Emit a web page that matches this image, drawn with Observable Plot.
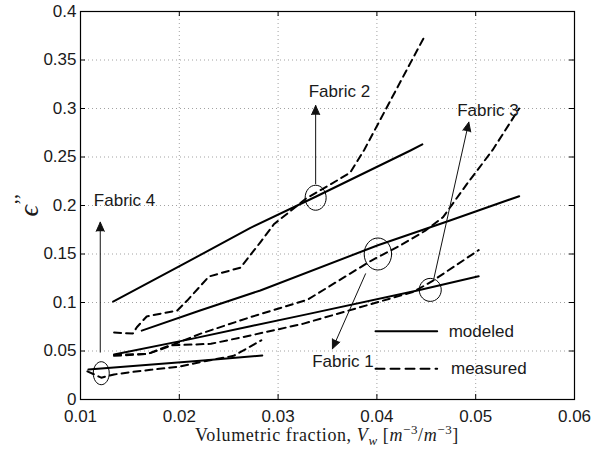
<!DOCTYPE html>
<html>
<head>
<meta charset="utf-8">
<script src="https://cdn.jsdelivr.net/npm/d3@7"></script>
<script src="https://cdn.jsdelivr.net/npm/@observablehq/plot@0.6"></script>
<style>
  body { margin: 0; background: #fff; }
  #chart svg { display: block; }
</style>
</head>
<body>
<div id="chart"></div>
<script>
// Axis ticks
const xTicks = [0.01, 0.02, 0.03, 0.04, 0.05, 0.06];
const xTickLabels = ["0.01", "0.02", "0.03", "0.04", "0.05", "0.06"];
const yTicks = [0, 0.05, 0.1, 0.15, 0.2, 0.25, 0.3, 0.35, 0.4];
const yTickLabels = ["0", "0.05", "0.1", "0.15", "0.2", "0.25", "0.3", "0.35", "0.4"];

// Modeled curves [volumetric fraction, eps'']
const fabric1Modeled = [[0.0134, 0.0464], [0.021, 0.062], [0.0272, 0.0755], [0.033, 0.088], [0.0441, 0.1124], [0.0503, 0.127]];
const fabric2Modeled = [[0.0133, 0.101], [0.0205, 0.140], [0.0272, 0.177], [0.0338, 0.209], [0.0434, 0.2567], [0.0446, 0.263]];
const fabric3Modeled = [[0.0162, 0.071], [0.0221, 0.0918], [0.0282, 0.1124], [0.0401, 0.159], [0.0474, 0.1845], [0.0544, 0.2096]];
const fabric4Modeled = [[0.0108, 0.031], [0.0221, 0.040], [0.0284, 0.0454]];

// Measured curves
const fabric1Measured = [[0.0134, 0.045], [0.0168, 0.047], [0.019, 0.0557], [0.0232, 0.0574], [0.0272, 0.066], [0.0325, 0.078], [0.0437, 0.111], [0.0456, 0.122], [0.0503, 0.154]];
const fabric2Measured = [[0.0134, 0.069], [0.0153, 0.068], [0.0157, 0.0745], [0.0167, 0.0856], [0.0198, 0.0918], [0.0208, 0.102], [0.0230, 0.1268], [0.0262, 0.136], [0.0282, 0.162], [0.0296, 0.181], [0.0311, 0.193], [0.0328, 0.207], [0.0360, 0.226], [0.0373, 0.234], [0.0387, 0.257], [0.0447, 0.372]];
const fabric3Measured = [[0.0134, 0.046], [0.0168, 0.047], [0.0185, 0.053], [0.0221, 0.0677], [0.0272, 0.0849], [0.0330, 0.103], [0.0394, 0.143], [0.0424, 0.159], [0.0449, 0.174], [0.0467, 0.188], [0.0491, 0.222], [0.0517, 0.257], [0.0544, 0.300]];
const fabric4Measured = [[0.0107, 0.029], [0.0121, 0.0225], [0.0134, 0.0258], [0.0151, 0.0282], [0.0171, 0.0306], [0.0201, 0.034], [0.0221, 0.0385], [0.0255, 0.045], [0.0283, 0.061]];

// Callouts: ellipse centre, half-width/half-height in px
const calloutNames = ["Fabric 4", "Fabric 2", "Fabric 1", "Fabric 3"];
const calloutCenters = [[0.0121, 0.0271], [0.0338, 0.208], [0.0401, 0.150], [0.0454, 0.113]];
const calloutRadii = [[8, 11.5], [10.5, 12.5], [13.7, 16], [11, 11.5]];
const arrowFrom = [[0.0120, 0.0488], [0.0338, 0.2224], [0.03885, 0.1296], [0.04576, 0.1244]];
const arrowTo = [[0.0120, 0.1828], [0.0338, 0.3031], [0.0355, 0.0523], [0.0493, 0.2859]];
const labelAt = [[0.01135, 0.2048], [0.0331, 0.3178], [0.03345, 0.0394], [0.04813, 0.2983]];

// Legend
const legendNames = ["modeled", "measured"];
const legendLineX = [0.03986, 0.0461];
const legendRowY = [0.0704, 0.0316];
const legendTextX = [0.04726, 0.0475];

const sans = "'Liberation Sans', Arial, Helvetica, sans-serif";
const dash = "7,5";

const series = [
  {name: "Fabric 1 modeled", kind: "modeled", pts: fabric1Modeled},
  {name: "Fabric 2 modeled", kind: "modeled", pts: fabric2Modeled},
  {name: "Fabric 3 modeled", kind: "modeled", pts: fabric3Modeled},
  {name: "Fabric 4 modeled", kind: "modeled", pts: fabric4Modeled},
  {name: "Fabric 1 measured", kind: "measured", pts: fabric1Measured},
  {name: "Fabric 2 measured", kind: "measured", pts: fabric2Measured},
  {name: "Fabric 3 measured", kind: "measured", pts: fabric3Measured},
  {name: "Fabric 4 measured", kind: "measured", pts: fabric4Measured}
];
const rows = series.flatMap(s => s.pts.map(([x, y]) => ({name: s.name, kind: s.kind, x, y})));
const modeledRows = rows.filter(d => d.kind === "modeled");
const measuredRows = rows.filter(d => d.kind === "measured");

const callouts = calloutNames.map((name, i) => ({
  name,
  cx: calloutCenters[i][0], cy: calloutCenters[i][1],
  rx: calloutRadii[i][0], ry: calloutRadii[i][1],
  x1: arrowFrom[i][0], y1: arrowFrom[i][1],
  x2: arrowTo[i][0], y2: arrowTo[i][1],
  lx: labelAt[i][0], ly: labelAt[i][1]
}));

// Ellipse outline usable as a dot symbol; r gives the vertical half-axis
function ellipseSymbol(aspect) {
  return {
    draw(context, size) {
      const ry = Math.sqrt(size / Math.PI), rx = ry * aspect, k = 0.5523;
      context.moveTo(rx, 0);
      context.bezierCurveTo(rx, k * ry, k * rx, ry, 0, ry);
      context.bezierCurveTo(-k * rx, ry, -rx, k * ry, -rx, 0);
      context.bezierCurveTo(-rx, -k * ry, -k * rx, -ry, 0, -ry);
      context.bezierCurveTo(k * rx, -ry, rx, -k * ry, rx, 0);
      context.closePath();
    }
  };
}

const legendRows = legendNames.map((name, i) => ({name, y: legendRowY[i], tx: legendTextX[i]}));
const legendLines = legendRows.flatMap(d => legendLineX.map(x => ({name: d.name, x, y: d.y})));

const W = 605, H = 450, mL = 80, mR = 31, mT = 11, mB = 51;
const frameW = W - mL - mR, frameH = H - mT - mB;
const tickLen = 5;

const chart = Plot.plot({
  width: W,
  height: H,
  marginLeft: mL,
  marginRight: mR,
  marginTop: mT,
  marginBottom: mB,
  style: {background: "#fff", color: "#000"},
  x: {domain: [0.01, 0.06]},
  y: {domain: [0, 0.4]},
  marks: [
    Plot.gridX(xTicks, {stroke: "#8a8a8a", strokeOpacity: 1, strokeWidth: 0.8, strokeDasharray: "1,3"}),
    Plot.gridY(yTicks, {stroke: "#8a8a8a", strokeOpacity: 1, strokeWidth: 0.8, strokeDasharray: "1,3"}),
    // inward ticks on all four sides
    Plot.tickX(xTicks, {x: d => d, insetTop: frameH - tickLen, stroke: "#000"}),
    Plot.tickX(xTicks, {x: d => d, insetBottom: frameH - tickLen, stroke: "#000"}),
    Plot.tickY(yTicks, {y: d => d, insetRight: frameW - tickLen, stroke: "#000"}),
    Plot.tickY(yTicks, {y: d => d, insetLeft: frameW - tickLen, stroke: "#000"}),
    Plot.axisX(xTicks, {
      tickSize: 0, tickPadding: 10, fontSize: 17, fontFamily: sans, fill: "#1a1a1a",
      tickFormat: d => xTickLabels[xTicks.indexOf(d)], label: null
    }),
    Plot.axisY(yTicks, {
      tickSize: 0, tickPadding: 4, fontSize: 17, fontFamily: sans, fill: "#1a1a1a",
      tickFormat: d => yTickLabels[yTicks.indexOf(d)], label: null
    }),
    Plot.line(modeledRows, {x: "x", y: "y", z: "name", stroke: "#000", strokeWidth: 2}),
    Plot.line(measuredRows, {x: "x", y: "y", z: "name", stroke: "#000", strokeWidth: 2, strokeDasharray: dash}),
    // callout ellipses, arrows and names
    ...callouts.map(c => Plot.dot([c], {
      x: "cx", y: "cy", r: c.ry, symbol: ellipseSymbol(c.rx / c.ry),
      stroke: "#000", strokeWidth: 1, fill: "none"
    })),
    Plot.arrow(callouts, {
      x1: "x1", y1: "y1", x2: "x2", y2: "y2",
      stroke: "#111", fill: "#111", strokeWidth: 1, headLength: 15, headAngle: 48
    }),
    Plot.text(callouts, {
      x: "lx", y: "ly", text: "name", textAnchor: "start",
      fontSize: 17, fontFamily: sans, fill: "#1a1a1a"
    }),
    // legend
    Plot.line(legendLines.filter(d => d.name === "modeled"), {x: "x", y: "y", stroke: "#000", strokeWidth: 2}),
    Plot.line(legendLines.filter(d => d.name === "measured"), {x: "x", y: "y", stroke: "#000", strokeWidth: 2, strokeDasharray: "9,6"}),
    Plot.text(legendRows, {x: "tx", y: "y", text: "name", textAnchor: "start", fontSize: 17, fontFamily: sans, fill: "#1a1a1a"}),
    Plot.frame({stroke: "#000", strokeWidth: 1.2})
  ]
});

document.getElementById("chart").append(chart);

// Axis titles with sub/superscripts
const svg = d3.select(chart);
const serif = "'Liberation Serif', 'Times New Roman', serif";
const xl = svg.append("text")
  .attr("x", mL + frameW / 2)
  .attr("y", 441)
  .attr("text-anchor", "middle")
  .attr("font-family", serif)
  .attr("font-size", 18)
  .attr("letter-spacing", 0.6)
  .attr("fill", "#1a1a1a");
xl.append("tspan").text("Volumetric fraction, ");
xl.append("tspan").attr("font-style", "italic").text("V");
xl.append("tspan").attr("font-style", "italic").attr("font-size", 13).attr("dy", 4).text("w");
xl.append("tspan").attr("dy", -4).text(" [");
xl.append("tspan").attr("font-style", "italic").text("m");
xl.append("tspan").attr("font-size", 13).attr("dy", -7).text("\u22123");
xl.append("tspan").attr("dy", 7).text("/");
xl.append("tspan").attr("font-style", "italic").text("m");
xl.append("tspan").attr("font-size", 13).attr("dy", -7).text("\u22123");
xl.append("tspan").attr("dy", 7).text("]");

const yl = svg.append("text")
  .attr("transform", "translate(38,205) rotate(-90)")
  .attr("text-anchor", "middle")
  .attr("font-family", serif)
  .attr("font-size", 28)
  .attr("fill", "#1a1a1a");
yl.append("tspan").attr("font-style", "italic").text("\u03f5");
yl.append("tspan").attr("font-size", 20).attr("dy", -9).text("\u2019\u2019");
</script>
</body>
</html>
